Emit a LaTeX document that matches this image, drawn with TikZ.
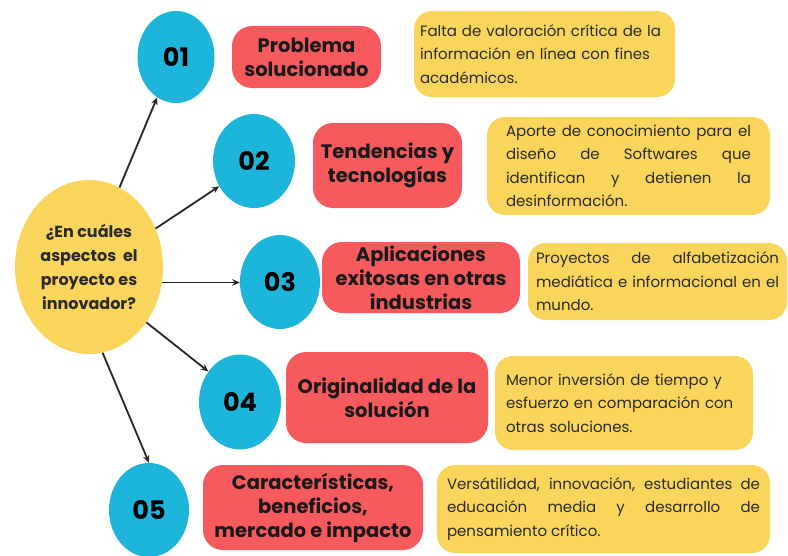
\documentclass[tikz,border=0pt]{standalone}
\usepackage{fontspec}
\setmainfont{Poppins}
\usetikzlibrary{shapes.geometric,arrows.meta}
\definecolor{cblue}{HTML}{1EB5DA}
\definecolor{cred}{HTML}{F65A5D}
\definecolor{cyel}{HTML}{F9D55B}
\definecolor{ctext}{HTML}{2A2A2A}
\begin{document}
\begin{tikzpicture}[x=1pt,y=-1pt,
  numnode/.style={ellipse, fill=cblue, inner sep=0pt, text=black,
    font=\bfseries\fontsize{25.5}{25.5}\selectfont},
  titlebox/.style={rounded corners=20pt, fill=cred, align=center, inner sep=0pt,
    text=black!90, font=\bfseries\fontsize{19.5}{24}\selectfont},
  descbox/.style={rounded corners=18pt, fill=cyel, inner ysep=0pt, text=ctext,
    font=\fontsize{15}{23.5}\selectfont},
  centernode/.style={ellipse, fill=cyel, inner sep=0pt, align=center, text=ctext,
    font=\bfseries\fontsize{16}{24}\selectfont},
  arr/.style={-{Stealth[length=7.5pt,width=6.5pt]}, line width=1.8pt, black!85}]
\useasboundingbox (0,0) rectangle (788,555);
\fill[white] (0,0) rectangle (788,555);

% central question
\node[centernode, minimum width=148pt, minimum height=174pt] (c) at (89,267)
  {¿En cuáles\\aspectos\ \ el\\proyecto es\\innovador?};

% numbered circles
\node[numnode, minimum width=77pt, minimum height=92pt] (n1) at (176,57) {01};
\node[numnode, minimum width=82pt, minimum height=94pt] (n2) at (254,161) {02};
\node[numnode, minimum width=80pt, minimum height=94pt] (n3) at (280,282) {03};
\node[numnode, minimum width=82pt, minimum height=95pt] (n4) at (240,402) {04};
\node[numnode, minimum width=80pt, minimum height=94pt] (n5) at (149,510) {05};

% titles
\node[titlebox, minimum width=149pt, minimum height=62pt] (t1) at (306.5,57)
  {Problema\\solucionado};
\node[titlebox, minimum width=149pt, minimum height=85pt] (t2) at (387.5,165.5)
  {Tendencias y\\tecnologías};
\node[titlebox, minimum width=198pt, minimum height=71pt] (t3) at (421,277.5)
  {Aplicaciones\\exitosas en otras\\industrias};
\node[titlebox, minimum width=202pt, minimum height=91pt] (t4) at (387,397.5)
  {Originalidad de la\\solución};
\node[titlebox, minimum width=220pt, minimum height=85pt] (t5) at (313,507.5)
  {Características,\\beneficios,\\mercado e impacto};

% descriptions
\node[descbox, inner xsep=6pt, text width=249pt, minimum height=86pt, align=left] (d1) at (544.5,54)
  {\mbox{Falta de valoración crítica de la}\\información en línea con fines\\académicos.};
\node[descbox, inner xsep=19pt, text width=245pt, minimum height=98pt, align=justify] (d2) at (628.5,166)
  {Aporte de conocimiento para el\linebreak diseño de Softwares que\linebreak identifican y detienen la\linebreak desinformación.};
\node[descbox, inner xsep=8pt, text width=243pt, minimum height=77pt, align=justify] (d3) at (657.5,281.5)
  {Proyectos de alfabetización\linebreak mediática e informacional en el\linebreak mundo.};
\node[descbox, inner xsep=11pt, text width=236pt, minimum height=94pt, align=left] (d4) at (624,403)
  {Menor inversión de tiempo y\\esfuerzo en comparación con\\otras soluciones.};
\node[descbox, inner xsep=10pt, text width=313pt, minimum height=88pt, align=justify] (d5) at (603.5,509)
  {Versátilidad, innovación, estudiantes de\linebreak educación media y desarrollo de\linebreak pensamiento crítico.};

% arrows
\draw[arr] (c.69) -- (n1.245);
\draw[arr] (c.30) -- (n2.216);
\draw[arr] (c.-12) -- (c.-12 -| n3.west);
\draw[arr] (c.-44) -- (n4.136);
\draw[arr] (c.-81) -- (n5.north);
\end{tikzpicture}
\end{document}
